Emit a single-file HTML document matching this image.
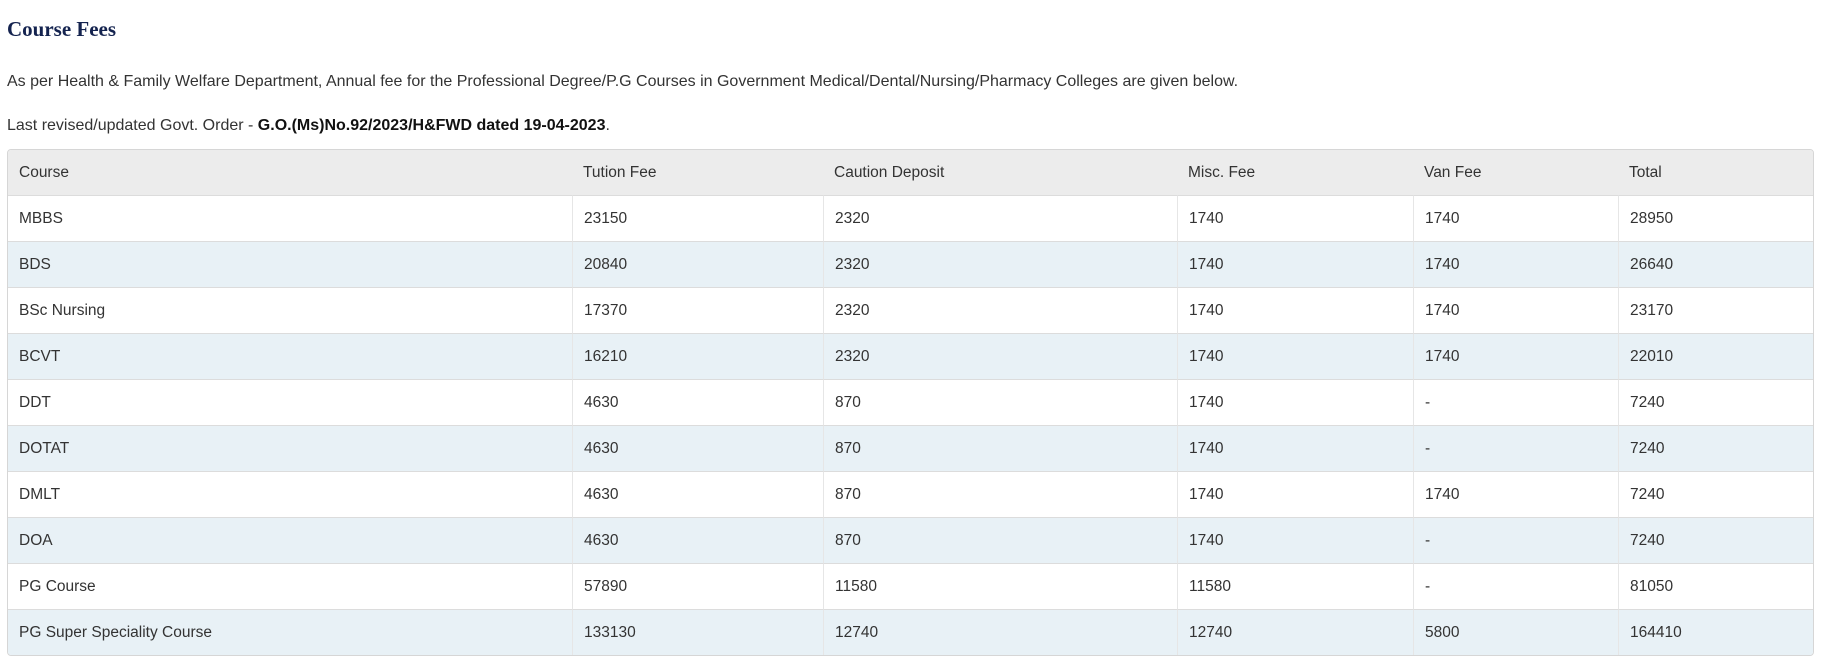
<!DOCTYPE html>
<html><head><style>
body{margin:0;background:#fff;font-family:"Liberation Sans",sans-serif;color:#333;width:1828px;height:668px;overflow:hidden}
h2{position:absolute;left:7px;top:17px;margin:0;font-family:"Liberation Serif",serif;font-weight:bold;font-size:21px;color:#14234f}
.p{position:absolute;left:7px;font-size:16px}
table{position:absolute;left:7px;top:149px;width:1807px;border-collapse:separate;border-spacing:0;border:1px solid #d6d6d6;border-radius:4px;overflow:hidden;font-size:15.5px}
td{height:45px;padding:0 0 0 11px;border-top:1px solid #dcdcdc;border-left:1px solid #e6e6e6;vertical-align:middle}
td:first-child{border-left:none}
tr:first-child td{border-top:none;background:#ececec;border-left:none}
tr:nth-child(odd):not(:first-child) td{background:#e8f1f6}
</style></head><body>
<h2>Course Fees</h2>
<div class="p" style="top:73px">As per Health &amp; Family Welfare Department, Annual fee for the Professional Degree/P.G Courses in Government Medical/Dental/Nursing/Pharmacy Colleges are given below.</div>
<div class="p" style="top:117px">Last revised/updated Govt. Order - <b style="color:#111">G.O.(Ms)No.92/2023/H&amp;FWD dated 19-04-2023</b>.</div>
<table>
<colgroup><col style="width:564px"><col style="width:251px"><col style="width:354px"><col style="width:236px"><col style="width:205px"><col></colgroup>
<tr><td>Course</td><td>Tution Fee</td><td>Caution Deposit</td><td>Misc. Fee</td><td>Van Fee</td><td>Total</td></tr>
<tr><td>MBBS</td><td>23150</td><td>2320</td><td>1740</td><td>1740</td><td>28950</td></tr>
<tr><td>BDS</td><td>20840</td><td>2320</td><td>1740</td><td>1740</td><td>26640</td></tr>
<tr><td>BSc Nursing</td><td>17370</td><td>2320</td><td>1740</td><td>1740</td><td>23170</td></tr>
<tr><td>BCVT</td><td>16210</td><td>2320</td><td>1740</td><td>1740</td><td>22010</td></tr>
<tr><td>DDT</td><td>4630</td><td>870</td><td>1740</td><td>-</td><td>7240</td></tr>
<tr><td>DOTAT</td><td>4630</td><td>870</td><td>1740</td><td>-</td><td>7240</td></tr>
<tr><td>DMLT</td><td>4630</td><td>870</td><td>1740</td><td>1740</td><td>7240</td></tr>
<tr><td>DOA</td><td>4630</td><td>870</td><td>1740</td><td>-</td><td>7240</td></tr>
<tr><td>PG Course</td><td>57890</td><td>11580</td><td>11580</td><td>-</td><td>81050</td></tr>
<tr><td>PG Super Speciality Course</td><td>133130</td><td>12740</td><td>12740</td><td>5800</td><td>164410</td></tr>
</table>
</body></html>
